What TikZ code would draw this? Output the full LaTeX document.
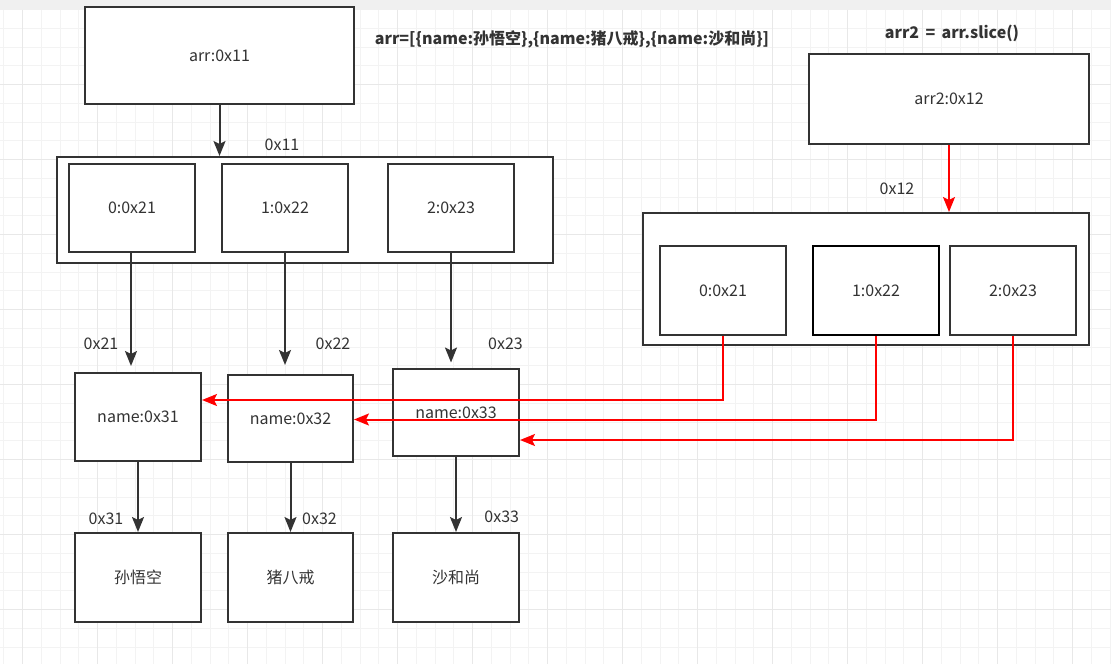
\documentclass[tikz,border=0pt]{standalone}
\usepackage{fontspec}
\setmainfont{Noto Sans CJK SC}
\usetikzlibrary{arrows.meta}
\definecolor{ink}{HTML}{333333}
\definecolor{gridminor}{HTML}{F3F3F3}
\definecolor{gridmajor}{HTML}{E8E8E8}
\definecolor{band}{HTML}{F0F0F0}
\definecolor{redline}{HTML}{FF0000}
\tikzset{
  box/.style={draw=ink, line width=2pt, fill=white, text=ink, inner sep=0pt,
    font=\fontsize{16}{19}\selectfont},
  lbl/.style={text=ink, inner sep=0pt, font=\fontsize{16}{19}\selectfont},
  ttl/.style={text=ink, inner sep=0pt, font=\fontsize{16}{19}\selectfont\bfseries},
  conn/.style={draw=ink, line width=2pt, -{Stealth[length=15pt,width=12pt,inset=3pt]}},
  redconn/.style={draw=redline, line width=2pt, -{Stealth[length=15pt,width=12pt,inset=3pt]}},
  minorg/.style={draw=gridminor, line width=1pt},
  majorg/.style={draw=gridmajor, line width=1pt},
}
\begin{document}
\begin{tikzpicture}[x=1pt,y=-1pt]
\useasboundingbox (0,0) rectangle (1111,664);
\fill[white] (0,0) rectangle (1111,664);
\fill[band] (0,0) rectangle (1111,9.5);
% grid
\foreach \k in {0,...,59} {
  \pgfmathsetmacro\xx{3.95+18.75*\k}
  \draw[minorg] (\xx,9.7) -- (\xx,664);
}
\foreach \k in {1,...,34} {
  \pgfmathsetmacro\yy{9.7+18.75*\k}
  \draw[minorg] (0,\yy) -- (1111,\yy);
}
\foreach \k in {1,5,...,57} {
  \pgfmathsetmacro\xx{3.95+18.75*\k}
  \draw[majorg] (\xx,9.7) -- (\xx,664);
}
\foreach \k in {4,8,...,32} {
  \pgfmathsetmacro\yy{9.7+18.75*\k}
  \draw[majorg] (0,\yy) -- (1111,\yy);
}

% titles
\node[ttl] (t1) at (572,39) {arr=[\{name:孙悟空\},\{name:猪八戒\},\{name:沙和尚\}]};
\node[ttl] (t2) at (952,33) {arr2 \,=\, arr.slice()};

% left structure
\node[box, minimum width=269pt, minimum height=97pt] (arr) at (219.5,55.5) {arr:0x11};
\node[box, minimum width=496pt, minimum height=106pt] (c1) at (305,210) {};
\node[box, minimum width=126pt, minimum height=88pt] (b0) at (132,208) {0:0x21};
\node[box, minimum width=126pt, minimum height=88pt] (b1) at (285,208) {1:0x22};
\node[box, minimum width=126pt, minimum height=88pt] (b2) at (451,208) {2:0x23};

\node[box, minimum width=126pt, minimum height=88pt] (n1) at (138,417) {name:0x31};
\node[box, minimum width=125pt, minimum height=87pt] (n2) at (290.5,418.5) {name:0x32};
\node[box, minimum width=126pt, minimum height=87pt] (n3) at (456,412.5) {name:0x33};

\node[box, minimum width=126pt, minimum height=89pt] (v1) at (138,577.5) {孙悟空};
\node[box, minimum width=125pt, minimum height=89pt] (v2) at (290.5,577.5) {猪八戒};
\node[box, minimum width=126pt, minimum height=89pt] (v3) at (456,577.5) {沙和尚};

% right structure
\node[box, minimum width=280pt, minimum height=90pt] (arr2) at (949,99) {arr2:0x12};
\node[box, minimum width=446pt, minimum height=132pt] (c2) at (866,279) {};
\node[box, minimum width=126pt, minimum height=89pt] (a0) at (723,290.5) {0:0x21};
\node[box, draw=black, line width=2.5pt, minimum width=126pt, minimum height=89pt] (a1) at (876,290.5) {1:0x22};
\node[box, minimum width=126pt, minimum height=89pt] (a2) at (1013,290.5) {2:0x23};

% labels
\node[lbl] (l11) at (282,145) {0x11};
\node[lbl] (l21) at (101,344) {0x21};
\node[lbl] (l22) at (333,344) {0x22};
\node[lbl] (l23) at (505.5,344) {0x23};
\node[lbl] (l31) at (106,519) {0x31};
\node[lbl] (l32) at (319.5,519) {0x32};
\node[lbl] (l33) at (501.7,517) {0x33};
\node[lbl] (l12) at (897,189) {0x12};

% black connectors
\draw[conn] (arr.south) -- (arr.south |- c1.north);
\draw[conn, shorten >=6pt] ([xshift=-1pt]b0.south) -- ([xshift=-1pt]b0.south |- n1.north);
\draw[conn, shorten >=9pt] (b1.south) -- (b1.south |- n2.north);
\draw[conn, shorten >=5.5pt] (b2.south) -- (b2.south |- n3.north);
\draw[conn] (n1.south) -- (v1.north);
\draw[conn] (n2.south) -- (v2.north);
\draw[conn] (n3.south) -- (v3.north);

% red connectors
\draw[redconn] (arr2.south) -- (arr2.south |- c2.north);
\draw[redconn] (a0.south) |- ([yshift=17pt]n1.east);
\draw[redconn] (a1.south) |- ([yshift=-1pt]n2.east);
\draw[redconn] (a2.south) |- ([yshift=-27.5pt]n3.east);
\end{tikzpicture}
\end{document}
